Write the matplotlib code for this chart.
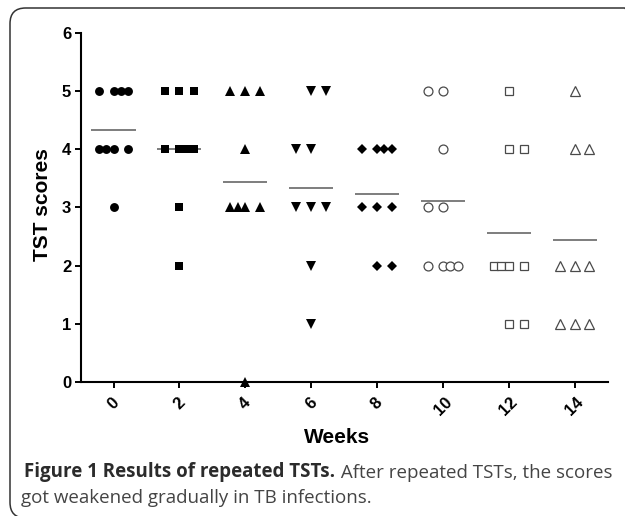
"""
Figure 1: TST scores over repeated tests (column scatter with mean lines).
"""

import numpy as np
import matplotlib
matplotlib.use('Agg')
import matplotlib.pyplot as plt
from matplotlib.patches import FancyBboxPatch

# === DATA ===
weeks = [0, 2, 4, 6, 8, 10, 12, 14]

scores_w0  = [5, 5, 5, 5, 4, 4, 4, 4, 3]
scores_w2  = [5, 5, 5, 4, 4, 4, 4, 3, 2]
scores_w4  = [5, 5, 5, 4, 3, 3, 3, 3, 0]
scores_w6  = [5, 5, 4, 4, 3, 3, 3, 2, 1]
scores_w8  = [4, 4, 4, 4, 3, 3, 3, 2, 2]
scores_w10 = [5, 5, 4, 3, 3, 2, 2, 2, 2]
scores_w12 = [5, 4, 4, 2, 2, 2, 2, 1, 1]
scores_w14 = [5, 4, 4, 2, 2, 2, 1, 1, 1]

# horizontal scatter of the points inside each column (weeks)
jitter_w0  = [-0.45, 0, 0.22, 0.45, -0.45, -0.22, 0, 0.45, 0]
jitter_w2  = [-0.45, 0, 0.45, -0.45, 0, 0.22, 0.45, 0, 0]
jitter_w4  = [-0.45, 0, 0.45, 0, -0.45, -0.22, 0, 0.45, 0]
jitter_w6  = [0, 0.45, -0.45, 0, -0.45, 0, 0.45, 0, 0]
jitter_w8  = [-0.45, 0, 0.22, 0.45, -0.45, 0, 0.45, 0, 0.45]
jitter_w10 = [-0.45, 0, 0, -0.45, 0, -0.45, 0, 0.22, 0.45]
jitter_w12 = [0, 0, 0.45, -0.45, -0.22, 0, 0.45, 0, 0.45]
jitter_w14 = [0, 0, 0.45, -0.45, 0, 0.45, -0.45, 0, 0.45]

scores = [scores_w0, scores_w2, scores_w4, scores_w6,
          scores_w8, scores_w10, scores_w12, scores_w14]
jitters = [jitter_w0, jitter_w2, jitter_w4, jitter_w6,
           jitter_w8, jitter_w10, jitter_w12, jitter_w14]

y_ticks = [0, 1, 2, 3, 4, 5, 6]

# === STYLE ===
BLACK = '#000000'
GREY = '#4a4a4a'
MEAN_GREY = '#5a5a5a'
AX_FONT = 'Liberation Sans'
CAP_FONT = 'Open Sans'

# marker, size, filled?
MARKERS = [('o', 6.4, True), ('s', 6.0, True), ('^', 6.6, True), ('v', 6.6, True),
           ('D', 5.0, True), ('o', 6.4, False), ('s', 6.0, False), ('^', 6.6, False)]

# === FIGURE ===
fig = plt.figure(figsize=(6.25, 5.16), dpi=100)
fig.patch.set_facecolor('white')
ax = fig.add_axes([0.129, 0.259, 0.843, 0.678])

for wk, ys, jit, (mk, ms, filled) in zip(weeks, scores, jitters, MARKERS):
    xs = np.array(jit) + wk
    if filled:
        ax.plot(xs, ys, linestyle='none', marker=mk, markersize=ms,
                color=BLACK, markeredgewidth=0, clip_on=False, zorder=3)
    else:
        ax.plot(xs, ys, linestyle='none', marker=mk, markersize=ms,
                markerfacecolor='white', markeredgecolor=GREY,
                markeredgewidth=0.9, clip_on=False, zorder=3)
    m = np.mean(ys)
    ax.hlines(m, wk - 0.67, wk + 0.67, color=MEAN_GREY, linewidth=1.1, zorder=2)

# === AXES ===
ax.set_xlim(-1, 15)
ax.set_ylim(0, 6)
ax.set_xticks(weeks)
ax.set_yticks(y_ticks)
ax.set_xticklabels([str(w) for w in weeks], rotation=45, ha='center', va='top',
                   fontsize=12, fontweight='bold', family=AX_FONT)
ax.set_yticklabels([str(v) for v in y_ticks],
                   fontsize=12, fontweight='bold', family=AX_FONT)
ax.tick_params(axis='both', direction='out', length=4.3, width=1.4, color=BLACK)
ax.tick_params(axis='x', pad=4.5)
ax.tick_params(axis='y', pad=2.5)
ax.spines[['top', 'right']].set_visible(False)
for s in ['left', 'bottom']:
    ax.spines[s].set_linewidth(1.5)
    ax.spines[s].set_color(BLACK)

ax.set_xlabel('Weeks', fontsize=15, fontweight='bold', family=AX_FONT)
ax.xaxis.set_label_coords(0.486, -0.157)
ax.xaxis.label.set_va('center')
ax.set_ylabel('TST scores', fontsize=15, fontweight='bold', family=AX_FONT)
ax.yaxis.set_label_coords(-0.0715, 0.507)
ax.yaxis.label.set_va('center')

# === CAPTION ===
cap1 = fig.text(0.039, 0.0762, 'Figure 1 Results of repeated TSTs.',
                fontsize=13.5, fontweight='bold', color='#2b2b2b',
                family=CAP_FONT, ha='left', va='baseline')
ax.annotate(' After repeated TSTs, the scores', xy=(1, 0), xycoords=cap1,
            fontsize=13.5, color='#444444', family=CAP_FONT,
            ha='left', va='bottom', annotation_clip=False)
fig.text(0.034, 0.0252, 'got weakened gradually in TB infections.',
         fontsize=13.5, color='#444444', family=CAP_FONT,
         ha='left', va='baseline')

# === FRAME ===
W, H = 625.0, 516.0
frame = FancyBboxPatch((10 / W, -2 / H), (640 - 10) / W, (508 + 2) / H,
                       boxstyle='round,pad=0,rounding_size=0.025',
                       transform=fig.transFigure, fill=False,
                       edgecolor='#333333', linewidth=1.1,
                       mutation_aspect=W / H)
fig.add_artist(frame)

fig.savefig('out.png', dpi=100, facecolor='white')
